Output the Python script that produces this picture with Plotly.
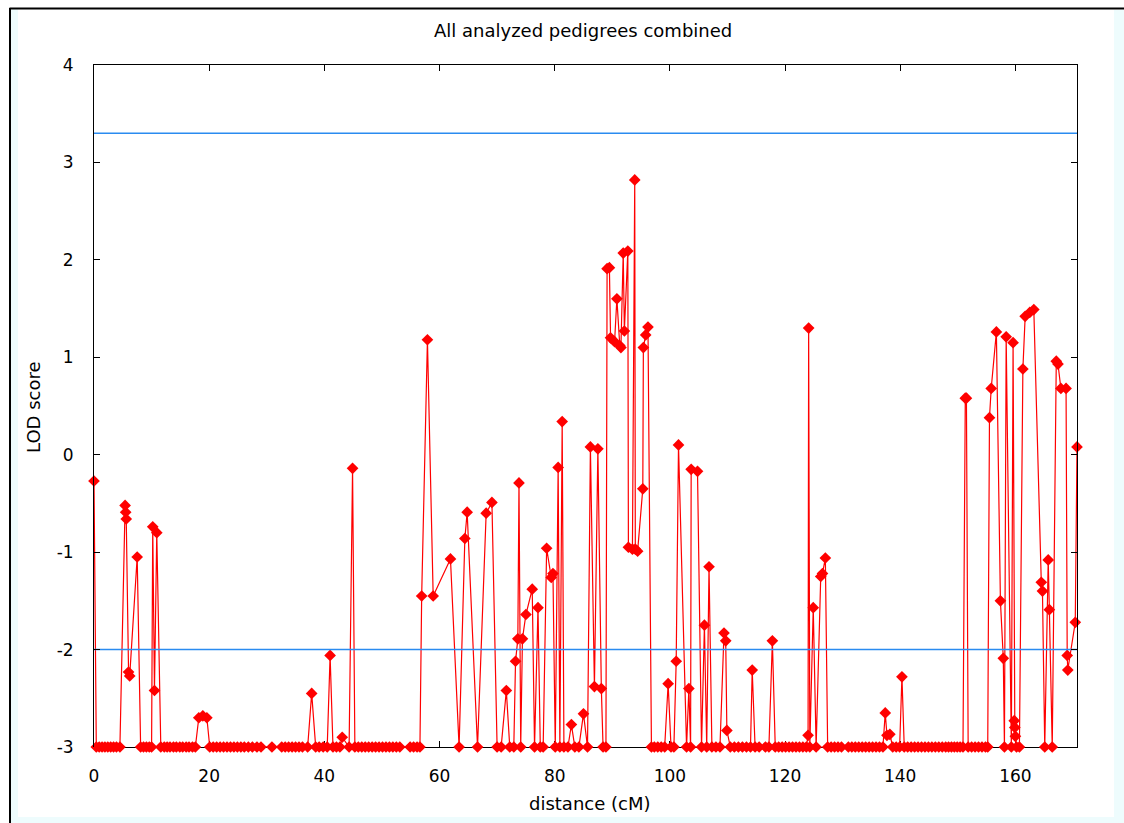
import plotly.graph_objects as go

# ---------------- data ----------------
pos_cM = [
    0.0, 0.4, 0.9, 1.4, 1.9, 2.4, 2.9, 3.4, 3.9, 4.5,
    5.4, 5.5, 5.6, 6.0, 6.2, 7.5,
    8.1, 8.6, 9.1, 9.6, 10.0,
    10.2, 10.5, 10.9,
    11.6, 12.2, 12.7, 13.2, 13.8, 14.3, 14.9, 15.4, 16.0, 16.5, 17.1, 17.6,
    18.2, 18.9, 19.6,
    20.1, 20.7, 21.3, 21.9, 22.5, 23.1, 23.7, 24.3, 24.9, 25.5, 26.1, 26.8, 27.5, 28.3, 29.0, 30.9,
    32.6, 33.2, 33.8, 34.4, 35.0, 35.6, 36.2, 37.1,
    37.8,
    38.5, 39.1, 39.8, 40.5,
    41.0,
    41.5, 42.1, 42.7,
    43.1,
    44.3, 44.9, 45.3,
    45.9, 46.5, 47.1, 47.7, 48.3, 48.9, 49.5, 50.1, 50.7, 51.3, 51.9, 52.5, 53.1,
    54.9, 55.5, 56.1, 56.6,
    56.9, 57.9, 58.9, 61.9,
    63.4,
    64.4, 64.8,
    66.6,
    68.1, 69.1,
    70.0, 70.7,
    71.6,
    72.2, 72.9,
    73.2, 73.6, 73.8, 74.1, 74.4, 75.0, 76.1, 76.5, 77.1, 77.5, 78.0,
    78.6, 79.4, 79.7, 80.1,
    80.6, 80.9, 81.3, 81.6, 82.3,
    82.9, 83.5, 84.2, 85.0, 85.7,
    86.2, 86.9, 87.5, 88.1, 88.4, 88.9,
    89.1, 89.5, 89.7, 90.4, 90.8, 91.3, 91.5, 91.9, 92.1, 92.7, 92.8, 93.5, 93.9, 94.0, 94.4,
    95.3, 95.4, 95.8, 96.2,
    96.8, 97.3, 97.9, 98.5, 99.1,
    99.7, 100.2, 100.7, 101.1, 101.5,
    102.9, 103.3, 103.6, 103.7, 104.8, 105.5, 106.0, 106.4, 106.8, 107.3, 108.0, 108.7,
    109.4, 109.7, 109.9,
    110.5, 111.2, 111.9, 112.6, 113.3, 114.0, 114.3, 114.8, 115.5,
    116.6, 117.2, 117.8, 118.3, 118.9, 119.5, 120.1, 120.7, 121.3, 121.9, 122.5, 123.1, 123.7,
    124.0, 124.1, 124.3, 124.9, 125.4, 126.2, 126.5, 127.0, 127.4,
    128.0, 128.6, 129.2, 129.8,
    131.0, 131.6, 132.2, 132.8, 133.4, 134.0, 134.6, 135.2, 135.8, 136.4, 137.0,
    137.4, 137.7, 138.2, 138.7, 139.3, 139.9, 140.3, 140.7,
    141.3, 141.9, 142.5, 143.1, 143.7, 144.3, 144.9, 145.5, 146.1, 146.7, 147.3, 147.9,
    148.4, 148.9, 149.4, 149.9, 150.4, 150.9,
    151.3, 151.5, 151.8,
    152.4, 153.0, 153.6, 154.2, 154.8, 155.2,
    155.5, 155.8, 156.7, 157.4, 157.9, 158.1, 158.4, 159.3, 159.6, 159.8, 159.9, 160.0,
    160.2, 160.7, 161.3, 161.7, 162.5, 163.2, 164.5, 164.7, 165.1, 165.7, 165.9, 166.4,
    167.1, 167.4, 167.9, 168.8, 169.0, 169.1, 170.4, 170.7,
]

lod_score = [
    -0.27, -3, -3, -3, -3, -3, -3, -3, -3, -3,
    -0.52, -0.59, -0.66, -2.23, -2.27, -1.05,
    -3, -3, -3, -3, -3,
    -0.74, -2.42, -0.80,
    -3, -3, -3, -3, -3, -3, -3, -3, -3, -3, -3, -3,
    -2.70, -2.68, -2.70,
    -3, -3, -3, -3, -3, -3, -3, -3, -3, -3, -3, -3, -3, -3, -3, -3,
    -3, -3, -3, -3, -3, -3, -3, -3,
    -2.45,
    -3, -3, -3, -3,
    -2.06,
    -3, -3, -3,
    -2.90,
    -3, -0.14, -3,
    -3, -3, -3, -3, -3, -3, -3, -3, -3, -3, -3, -3, -3,
    -3, -3, -3, -3,
    -1.45, 1.18, -1.45, -1.07,
    -3,
    -0.86, -0.59,
    -3,
    -0.60, -0.49,
    -3, -3,
    -2.42,
    -3, -3,
    -2.12, -1.89, -0.29, -3, -1.89, -1.64, -1.38, -3, -1.57, -3, -3,
    -0.96, -1.26, -1.22, -3,
    -0.13, -3, 0.34, -3, -3,
    -2.77, -3, -3, -2.66, -3,
    0.08, -2.38, 0.06, -2.40, -3, -3,
    1.91, 1.92, 1.20, 1.16, 1.60, 1.12, 1.10, 2.07, 1.27, 2.09, -0.95, -0.97, 2.82, -0.97, -0.99,
    -0.35, 1.10, 1.23, 1.31,
    -3, -3, -3, -3, -3,
    -2.35, -3, -3, -2.12, 0.10,
    -3, -2.40, -3, -0.15, -0.17, -3, -1.75, -3, -1.15, -3, -3, -3,
    -1.83, -1.91, -2.83,
    -3, -3, -3, -3, -3, -3, -2.21, -3, -3,
    -3, -3, -1.91, -3, -3, -3, -3, -3, -3, -3, -3, -3, -3,
    -2.88, 1.30, -3, -1.57, -3, -1.25, -1.22, -1.06, -3,
    -3, -3, -3, -3,
    -3, -3, -3, -3, -3, -3, -3, -3, -3, -3, -3,
    -2.65, -2.88, -2.87, -3, -3, -3, -2.28, -3,
    -3, -3, -3, -3, -3, -3, -3, -3, -3, -3, -3, -3,
    -3, -3, -3, -3, -3, -3,
    0.58, 0.58, -3,
    -3, -3, -3, -3, -3, -3,
    0.38, 0.68, 1.26, -1.50, -2.09, -3, 1.21, -3, 1.15, -2.73, -2.80, -2.89,
    -3, -3, 0.88, 1.42, 1.46, 1.49, -1.31, -1.40, -3, -1.08, -1.59, -3,
    0.96, 0.93, 0.68, 0.68, -2.06, -2.21, -1.72, 0.08,
]

thresholds = [3.3, -2.0]
x_tick_values = [0, 20, 40, 60, 80, 100, 120, 140, 160]
y_tick_values = [-3, -2, -1, 0, 1, 2, 3, 4]
x_range = [0, 170.7]
y_range = [-3, 4]

title_text = "All analyzed pedigrees combined"
x_title = "distance (cM)"
y_title = "LOD score"

# ---------------- layout geometry (pixels) ----------------
W, H = 1124, 823
L, R, T, B = 94, 1077, 65, 747
PW, PH = R - L, B - T


def px(x):
    return (x - L) / PW


def py(y):
    return (B - y) / PH


FONT = "DejaVu Sans, Verdana, sans-serif"

fig = go.Figure()

fig.add_trace(go.Scatter(
    x=pos_cM, y=lod_score,
    mode="lines+markers",
    line=dict(color="#ff0000", width=1.2),
    marker=dict(symbol="diamond", size=9, color="#ff0000", line=dict(width=0)),
    cliponaxis=False,
    showlegend=False,
    hoverinfo="x+y",
))

for t in thresholds:
    fig.add_trace(go.Scatter(
        x=x_range, y=[t, t],
        mode="lines",
        line=dict(color="#2a8bf0", width=1.5),
        showlegend=False,
        hoverinfo="skip",
    ))

axis_common = dict(
    showgrid=False, zeroline=False,
    showline=True, linecolor="black", linewidth=1,
    mirror="ticks", ticks="inside", ticklen=6, tickwidth=1, tickcolor="black",
    tickfont=dict(family=FONT, size=17, color="black"),
)

fig.update_xaxes(range=x_range, tickvals=x_tick_values, ticktext=[str(v) for v in x_tick_values],
                 ticklabelstandoff=14, layer="below traces", **axis_common)
fig.update_yaxes(range=y_range, tickvals=y_tick_values, ticktext=[str(v) for v in y_tick_values],
                 ticklabelstandoff=16, **axis_common)

CYAN = "#eefcfd"
shapes = [
    dict(type="rect", xref="paper", yref="paper", x0=px(11), x1=px(18), y0=py(9), y1=py(H),
         fillcolor=CYAN, line=dict(width=0), layer="below"),
    dict(type="rect", xref="paper", yref="paper", x0=px(1114), x1=px(W), y0=py(10), y1=py(H),
         fillcolor=CYAN, line=dict(width=0), layer="below"),
    dict(type="rect", xref="paper", yref="paper", x0=px(11), x1=px(W), y0=py(817), y1=py(H),
         fillcolor=CYAN, line=dict(width=0), layer="below"),
    dict(type="line", xref="paper", yref="paper", x0=px(9.5), x1=px(W), y0=py(8.5), y1=py(8.5),
         line=dict(color="black", width=2)),
    dict(type="line", xref="paper", yref="paper", x0=px(10), x1=px(10), y0=py(8), y1=py(H),
         line=dict(color="black", width=2)),
]

annotations = [
    dict(text=title_text, xref="paper", yref="paper", x=px(582.5), y=py(30),
         xanchor="center", yanchor="middle", showarrow=False,
         font=dict(family=FONT, size=18, color="black")),
    dict(text=x_title, xref="paper", yref="paper", x=px(589), y=py(803),
         xanchor="center", yanchor="middle", showarrow=False,
         font=dict(family=FONT, size=18, color="black")),
    dict(text=y_title, xref="paper", yref="paper", x=px(33), y=py(407),
         xanchor="center", yanchor="middle", showarrow=False, textangle=-90,
         font=dict(family=FONT, size=18, color="black")),
]

fig.update_layout(
    width=W, height=H, autosize=False,
    margin=dict(l=L, r=W - R, t=T, b=H - B, pad=0),
    paper_bgcolor="white", plot_bgcolor="white",
    shapes=shapes, annotations=annotations,
    showlegend=False,
)

fig.write_html("out.html",
               config={"displayModeBar": False},
               post_script="document.body.style.margin='0';document.body.style.overflow='hidden';")
